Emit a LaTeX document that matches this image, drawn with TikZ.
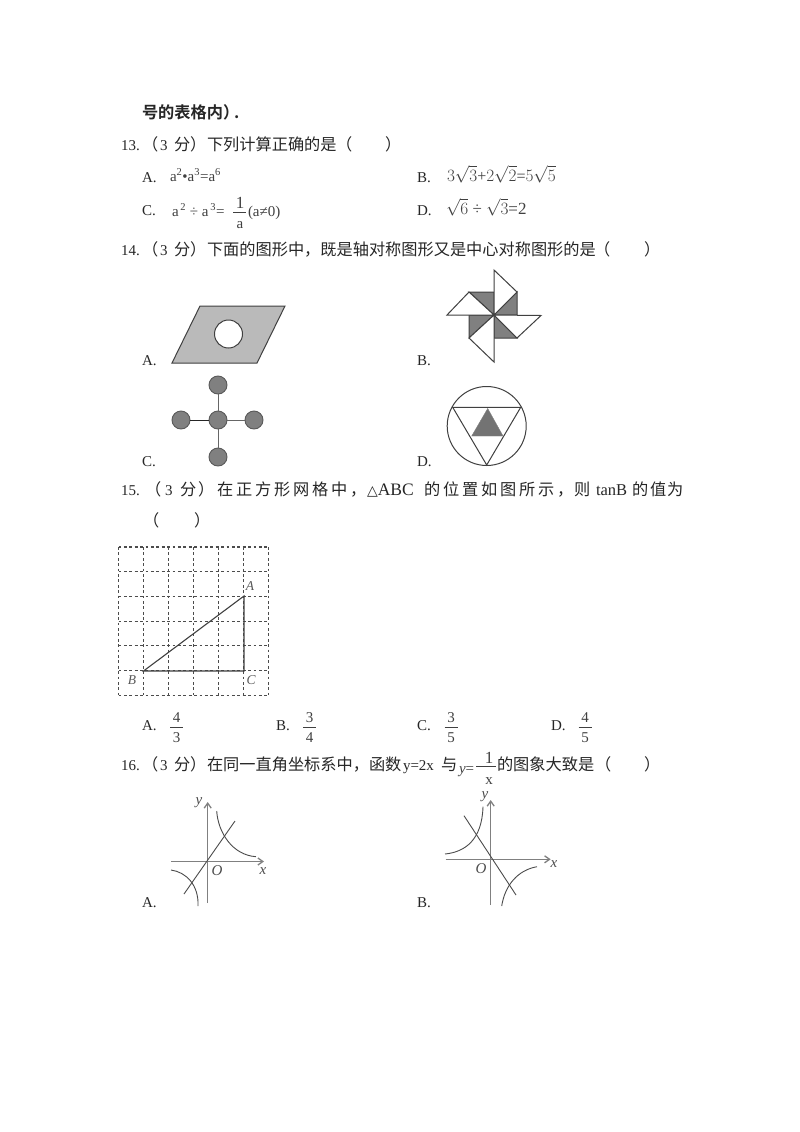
\documentclass[tikz,border=0pt]{standalone}
\usepackage{fontspec}
\setmainfont{Liberation Serif}
\newfontfamily\cjk{Noto Sans CJK SC}[Scale=1.08]
\newfontfamily\cjkb{Noto Sans CJK SC Bold}[Scale=1.08]
\newfontfamily\dejavu{DejaVu Sans}
\usetikzlibrary{arrows.meta}
\tikzset{
 txt/.style={anchor=base west,inner sep=0pt,outer sep=0pt,font=\fontsize{15}{17}\selectfont,text=black!85},
 frm/.style={anchor=base west,inner sep=0pt,outer sep=0pt,font=\fontsize{15}{17}\selectfont,text=black!75},
 bigfrm/.style={anchor=base west,inner sep=0pt,outer sep=0pt,font=\fontsize{17}{19}\selectfont,text=black!75},
 midfrm/.style={anchor=base west,inner sep=0pt,outer sep=0pt,font=\fontsize{16}{18}\selectfont,text=black!75},
 fig/.style={line width=1pt,draw=black!75},
 ital/.style={anchor=center,inner sep=0pt,font=\fontsize{15}{17}\selectfont\itshape,text=black!70},
 gital/.style={anchor=center,inner sep=0pt,font=\fontsize{13.5}{15}\selectfont\itshape,text=black!65},
 axis/.style={line width=1.3pt,draw=black!50,-{Straight Barb[length=5pt,width=7pt]}},
 curve/.style={line width=0.9pt,draw=black!70},
 fracbar/.style={line width=0.8pt,draw=black!75},
 disc/.style={circle,draw=black!65,fill=black!50,line width=0.9pt,minimum size=18pt,inner sep=0pt},
 griddash/.style={line width=1.1pt,draw=black!70,dash pattern=on 2.8pt off 2.6pt},
}
\begin{document}
\begin{tikzpicture}[x=1pt,y=-1pt]
\useasboundingbox (0,0) rectangle (800,1132);
\fill[white] (0,0) rectangle (800,1132);
% header
\node[txt] (h) at (142,118) {\cjkb 号的表格内）\hspace{-5pt}.};
% 13
\node[txt] (q13n) at (121,150) {13.};
\node[txt] (q13a) at (142,150) {\cjk （};
\node[txt] (q13b) at (160,150) {3};
\node[txt] (q13c) at (174,150) {\cjk 分};
\node[txt] (q13d) at (190,150) {\cjk ）};
\node[txt] (q13e) at (207,150) {\cjk 下列计算正确的是};
\node[txt] (q13f) at (336,150) {\cjk （};
\node[txt] (q13g) at (385,150) {\cjk ）};
\node[txt] (a13) at (142,182) {A.};
\node[frm] (a13t) at (170,181) {a\textsuperscript{2}•a\textsuperscript{3}=a\textsuperscript{6}};
\node[txt] (b13) at (417,182) {B.};
\node[midfrm] (b13t) at (447,181) {$3\sqrt{3}$+$2\sqrt{2}$=$5\sqrt{5}$};
\node[txt] (c13) at (142,215) {C.};
\node[frm] (c13t) at (172,216) {a\textsuperscript{\,2} ÷ a\textsuperscript{\,3}=};
\node[bigfrm,anchor=base] (c13n) at (240,208) {1};
\node[frm,anchor=base] (c13d) at (240,228) {a};
\draw[fracbar] (233,212) -- (246,212);
\node[frm] (c13e) at (248,216) {(a≠0)};
\node[txt] (d13) at (417,215) {D.};
\node[bigfrm] (d13t) at (446,214) {$\sqrt{6}$ ÷ $\sqrt{3}$=2};
% 14
\node[txt] (q14n) at (121,255) {14.};
\node[txt] (q14a) at (142,255) {\cjk （};
\node[txt] (q14b) at (160,255) {3};
\node[txt] (q14c) at (174,255) {\cjk 分};
\node[txt] (q14d) at (190,255) {\cjk ）};
\node[txt] (q14e) at (207,255) {\cjk 下面的图形中，既是轴对称图形又是中心对称图形的是};
\node[txt] (q14f) at (594,255) {\cjk （};
\node[txt] (q14g) at (644,255) {\cjk ）};
% figure A
\node[txt] (a14) at (142,365) {A.};
\draw[fig,fill=black!27] (172,363) -- (200,306) -- (285,306) -- (257,363) -- cycle;
\draw[fig,fill=white] (228.5,334) circle (14pt);
% figure B
\node[txt] (b14) at (417,365) {B.};
\coordinate (pc) at (494,315);
\coordinate (p1) at (469,292);
\coordinate (p2) at (517,292);
\coordinate (p3) at (517,338);
\coordinate (p4) at (469,338);
\draw[fig,fill=black!50] (pc) -- (p1) -- (494,292) -- cycle;
\draw[fig,fill=black!50] (pc) -- (p2) -- (517,315) -- cycle;
\draw[fig,fill=black!50] (pc) -- (p3) -- (494,338) -- cycle;
\draw[fig,fill=black!50] (pc) -- (p4) -- (469,315) -- cycle;
\draw[fig,fill=white] (pc) -- (p1) -- (447,315) -- cycle;
\draw[fig,fill=white] (pc) -- (494,270) -- (p2) -- cycle;
\draw[fig,fill=white] (pc) -- (541,315.5) -- (p3) -- cycle;
\draw[fig,fill=white] (pc) -- (494,362) -- (p4) -- cycle;
% figure C
\node[txt] (c14) at (142,466) {C.};
\node[disc] (cc) at (218,420) {};
\node[disc] (ct) at (218,385) {};
\node[disc] (cb) at (218,457) {};
\node[disc] (cl) at (181,420) {};
\node[disc] (cr) at (254,420) {};
\draw[line width=1pt,black!60] (cc)--(ct) (cc)--(cb) (cc)--(cr);
\draw[line width=1pt,black!85] (cc)--(cl);
% figure D
\node[txt] (d14) at (417,466) {D.};
\draw[fig] (486.7,426) circle (39.5pt);
\draw[fig] (452.7,407.3) -- (520.7,407.3) -- (486.7,465) -- cycle;
\draw[draw=black!50,fill=black!55] (487.7,408.5) -- (503,436) -- (471.7,436) -- cycle;
% 15
\node[txt] (q15n) at (121,495) {15.};
\node[txt] (q15a) at (145,495) {\cjk （};
\node[txt] (q15b) at (165,495) {3};
\node[txt] (q15c) at (180,495) {\cjk 分};
\foreach \c/\x/\n in {）/198/r1,在/217/r2,正/236/r3,方/255/r4,形/274/r5,网/293/r6,格/312/r7,中/331/r8,，/350/r9} {
  \node[txt] (\n) at (\x,495) {\cjk \c};
}
\node[txt] (abc) at (367,495) {{\dejavu\fontsize{14}{16}\selectfont △}{\fontsize{17.5}{19}\selectfont ABC}};
\foreach \c/\x/\n in {的/424/s1,位/443/s2,置/462/s3,如/481/s4,图/500/s5,所/519/s6,示/538/s7,，/557/s8,则/574/s9} {
  \node[txt] (\n) at (\x,495) {\cjk \c};
}
\node[txt,font=\fontsize{16.5}{18}\selectfont] (tanb) at (596,495) {tanB};
\foreach \c/\x/\n in {的/632/t1,值/650/t2,为/667/t3} {
  \node[txt] (\n) at (\x,495) {\cjk \c};
}
\node[txt] (q15p) at (143,526) {\cjk （};
\node[txt] (q15q) at (194,526) {\cjk ）};
% grid
\foreach \i in {0,...,6} {
  \draw[griddash] ({118.5+25*\i},547) -- ({118.5+25*\i},695);
  \draw[griddash] (118.5,{547+24.7*\i}) -- (269,{547+24.7*\i});
}
\coordinate (tA) at (244,596);
\coordinate (tB) at (143.5,671);
\coordinate (tC) at (244,671);
\draw[line width=1.1pt,black!75] (tA) -- (tB) -- (tC) -- cycle;
\node[gital] (la) at (250,586) {A};
\node[gital] (lb) at (132,680) {B};
\node[gital] (lc) at (251,680) {C};
% answers 15
\node[txt] (a15) at (142,730) {A.};
\node[frm,anchor=base] (a15n) at (176.5,722) {4};
\node[frm,anchor=base] (a15d) at (176.5,742) {3};
\draw[fracbar] (170,727) -- (183,727);
\node[txt] (b15) at (276,730) {B.};
\node[frm,anchor=base] (b15n) at (309.5,722) {3};
\node[frm,anchor=base] (b15d) at (309.5,742) {4};
\draw[fracbar] (303,727) -- (316,727);
\node[txt] (c15) at (417,730) {C.};
\node[frm,anchor=base] (c15n) at (451,722) {3};
\node[frm,anchor=base] (c15d) at (451,742) {5};
\draw[fracbar] (444.5,727) -- (457.5,727);
\node[txt] (d15) at (551,730) {D.};
\node[frm,anchor=base] (d15n) at (585,722) {4};
\node[frm,anchor=base] (d15d) at (585,742) {5};
\draw[fracbar] (578.5,727) -- (591.5,727);
% 16
\node[txt] (q16n) at (121,770) {16.};
\node[txt] (q16a) at (142,770) {\cjk （};
\node[txt] (q16b) at (160,770) {3};
\node[txt] (q16c) at (174,770) {\cjk 分};
\node[txt] (q16d) at (190,770) {\cjk ）};
\node[txt] (q16e) at (207,770) {\cjk 在同一直角坐标系中，函数};
\node[txt] (q16f) at (403,770) {y=2x};
\node[txt] (q16g) at (441,770) {\cjk 与};
\node[frm] (q16y) at (459,773) {\itshape y\upshape =};
\draw[fracbar] (476,766) -- (496,766);
\node[bigfrm,anchor=base] (q16m) at (489,763) {1};
\node[frm,anchor=base] (q16o) at (489,784) {x};
\node[txt] (q16h) at (497,770) {\cjk 的图象大致是};
\node[txt] (q16i) at (595,770) {\cjk （};
\node[txt] (q16j) at (644,770) {\cjk ）};
% graph A
\node[txt] (a16) at (142,907) {A.};
\draw[axis] (171,861.5) -- (264,861.5);
\draw[axis] (207.7,903) -- (207.7,802);
\draw[curve] (184,894) -- (235,821);
\draw[curve] (216.7,811) .. controls (218,832) and (232,855) .. (256,856.7);
\draw[curve] (171,870) .. controls (186,872) and (199,885) .. (198,906);
\node[ital] (ay) at (199,803) {y};
\node[ital] (ax) at (263,871) {x};
\node[ital] (aO) at (217,871) {O};
% graph B
\node[txt] (b16) at (417,907) {B.};
\draw[axis] (445.7,859.3) -- (550.7,859.3);
\draw[axis] (490.7,905) -- (490.7,800);
\draw[curve] (464,815.7) -- (516,895);
\draw[curve] (445,854) .. controls (465,852) and (482,840) .. (483,806.7);
\draw[curve] (501.7,906) .. controls (505,885) and (518,870) .. (537,866.7);
\node[ital] (by) at (485,797) {y};
\node[ital] (bx) at (554,864) {x};
\node[ital] (bO) at (481,869) {O};
\end{tikzpicture}
\end{document}
